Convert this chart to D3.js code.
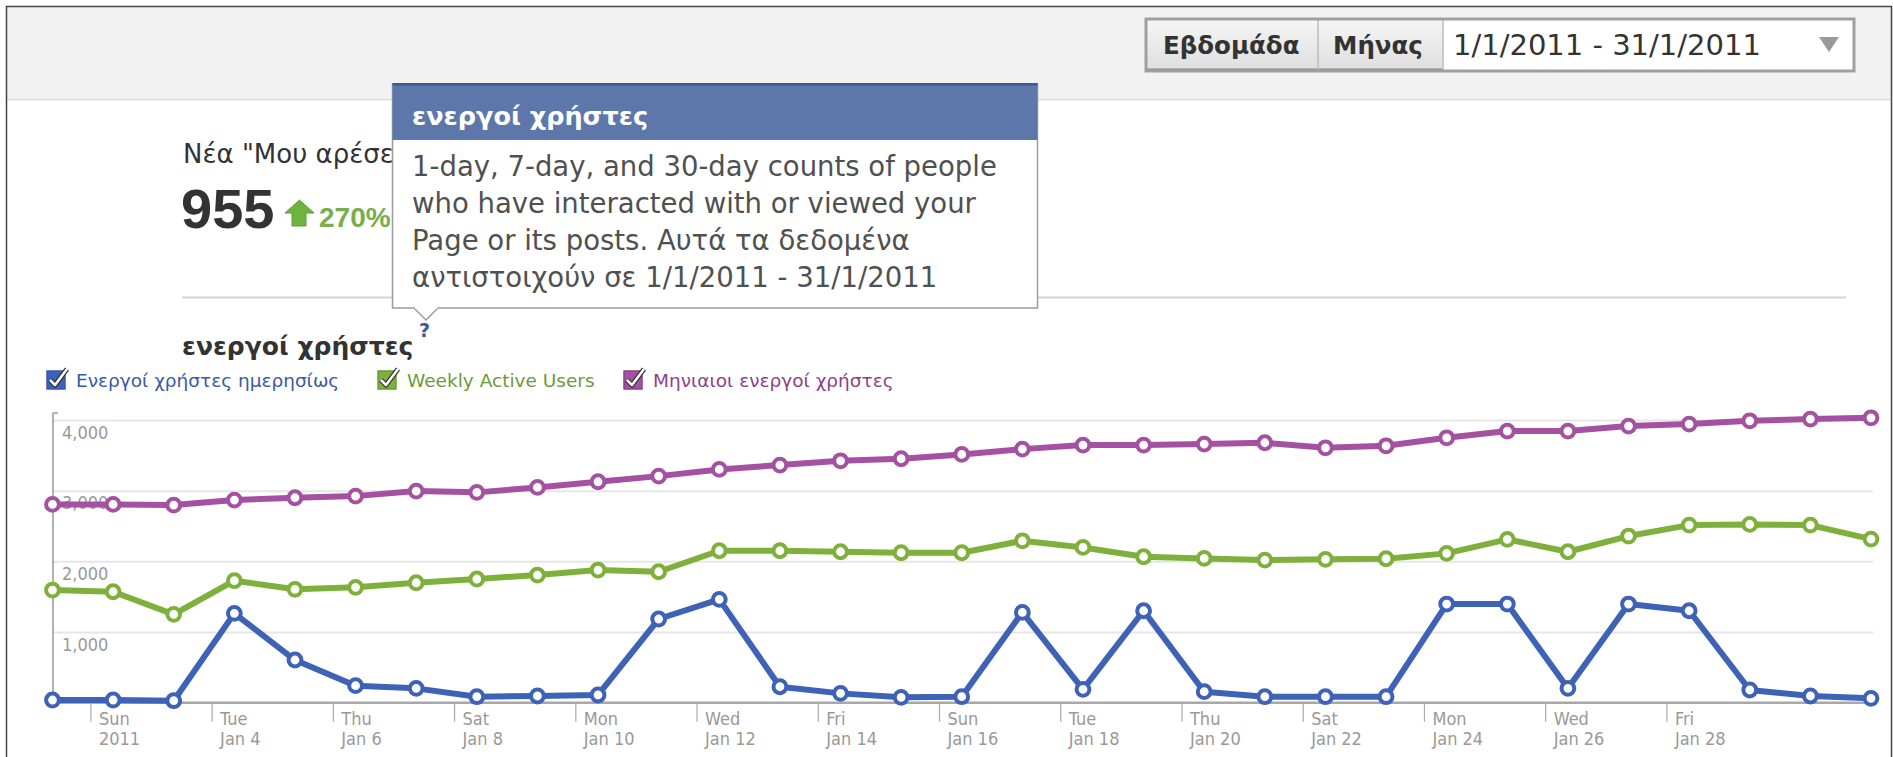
<!DOCTYPE html>
<html>
<head>
<meta charset="utf-8">
<script src="https://cdn.jsdelivr.net/npm/d3@7"></script>
<style>
  body { margin: 0; background: #fff; }
  svg text { font-family: "DejaVu Sans", Verdana, sans-serif; }
</style>
</head>
<body>
<div id="chart-area"></div>
<script>
// data (January 2011)
var days = [1,2,3,4,5,6,7,8,9,10,11,12,13,14,15,16,17,18,19,20,21,22,23,24,25,26,27,28,29,30,31];
var daily   = [38,38,28,1264,604,241,203,85,95,109,1184,1462,226,132,76,85,1278,189,1301,156,85,85,85,1396,1396,203,1396,1301,180,95,62];
var weekly  = [1594,1570,1250,1726,1604,1632,1697,1750,1806,1877,1853,2150,2150,2136,2122,2122,2291,2197,2065,2042,2018,2028,2037,2113,2311,2136,2358,2513,2523,2513,2315];
var monthly = [2806,2806,2796,2867,2900,2923,2994,2976,3046,3126,3206,3301,3362,3423,3452,3513,3588,3645,3645,3659,3678,3607,3635,3748,3843,3843,3914,3942,3989,4013,4031];

var seriesNames  = ["Ενεργοί χρήστες ημερησίως", "Weekly Active Users", "Μηνιαιοι ενεργοί χρήστες"];
var seriesColors = ["#3d62b6", "#80b03c", "#a451a1"];
var legendColors = ["#3b5aa6", "#6b9a3a", "#8e3f8c"];

var tickDays   = [2,4,6,8,10,12,14,16,18,20,22,24,26,28];
var tickWeek   = ["Sun","Tue","Thu","Sat","Mon","Wed","Fri","Sun","Tue","Thu","Sat","Mon","Wed","Fri"];
var tickDate   = ["2011","Jan 4","Jan 6","Jan 8","Jan 10","Jan 12","Jan 14","Jan 16","Jan 18","Jan 20","Jan 22","Jan 24","Jan 26","Jan 28"];
var yTicks     = [1000, 2000, 3000, 4000];

var tooltipTitle = "ενεργοί χρήστες";
var tooltipLines = [
  "1-day, 7-day, and 30-day counts of people",
  "who have interacted with or viewed your",
  "Page or its posts. Αυτά τα δεδομένα",
  "αντιστοιχούν σε 1/1/2011 - 31/1/2011"
];

var W = 1893, H = 757;

var svg = d3.select("#chart-area")
  .append("svg")
  .attr("width", W)
  .attr("height", H);

var defs = svg.append("defs");
var btnGrad = defs.append("linearGradient").attr("id", "btn").attr("x1", 0).attr("y1", 0).attr("x2", 0).attr("y2", 1);
btnGrad.append("stop").attr("offset", "0%").attr("stop-color", "#f6f6f6");
btnGrad.append("stop").attr("offset", "100%").attr("stop-color", "#dedede");
defs.append("clipPath").attr("id", "statClip")
  .append("rect").attr("x", 0).attr("y", 100).attr("width", 392).attr("height", 150);

// header band
svg.append("rect").attr("x", 7).attr("y", 7).attr("width", 1884).attr("height", 92).attr("fill", "#f2f2f2");
svg.append("line").attr("x1", 7).attr("x2", 1891).attr("y1", 99.5).attr("y2", 99.5).attr("stroke", "#e2e2e2").attr("stroke-width", 2);

// period selector
var sel = svg.append("g");
sel.append("rect").attr("x", 1146).attr("y", 19).attr("width", 172).attr("height", 52).attr("fill", "url(#btn)");
sel.append("rect").attr("x", 1318).attr("y", 19).attr("width", 125).attr("height", 52).attr("fill", "url(#btn)");
sel.append("rect").attr("x", 1443).attr("y", 19).attr("width", 411).attr("height", 52).attr("fill", "#fff");
sel.append("line").attr("x1", 1146).attr("x2", 1443).attr("y1", 70).attr("y2", 70).attr("stroke", "#8a8a8a").attr("stroke-width", 3);
sel.append("line").attr("x1", 1318).attr("x2", 1318).attr("y1", 19).attr("y2", 71).attr("stroke", "#bbb").attr("stroke-width", 1.5);
sel.append("line").attr("x1", 1443).attr("x2", 1443).attr("y1", 19).attr("y2", 71).attr("stroke", "#bbb").attr("stroke-width", 1.5);
sel.append("rect").attr("x", 1146).attr("y", 19).attr("width", 708).attr("height", 52)
  .attr("fill", "none").attr("stroke", "#9f9f9f").attr("stroke-width", 3);
sel.append("text").attr("x", 1163).attr("y", 54).attr("font-size", 24.5).attr("font-weight", "bold").attr("fill", "#333").text("Εβδομάδα");
sel.append("text").attr("x", 1333).attr("y", 54).attr("font-size", 24.5).attr("font-weight", "bold").attr("fill", "#333").text("Μήνας");
sel.append("text").attr("x", 1453).attr("y", 55).attr("font-size", 29).attr("fill", "#333").text("1/1/2011 - 31/1/2011");
sel.append("path").attr("d", "M1819,37 L1839,37 L1829,52 Z").attr("fill", "#9a9a9a");

// stat block (partly hidden by the tooltip)
var stat = svg.append("g").attr("clip-path", "url(#statClip)");
stat.append("text").attr("x", 183).attr("y", 163).attr("font-size", 26).attr("fill", "#333").text("Νέα \"Μου αρέσει\"");
stat.append("text").attr("x", 181).attr("y", 228).attr("font-size", 56).attr("font-weight", "bold")
  .style("font-family", "'Liberation Sans', Arial, sans-serif").attr("fill", "#333").text("955");
stat.append("path").attr("d", "M299.5,200 L314,213 L306,213 L306,226 L292,226 L292,213 L285,213 Z")
  .attr("fill", "#6cb33f").attr("stroke", "#5d9e33").attr("stroke-width", 1);
stat.append("text").attr("x", 319).attr("y", 227).attr("font-size", 28).attr("font-weight", "bold")
  .style("font-family", "'Liberation Sans', Arial, sans-serif").attr("fill", "#7aad4c").text("270%");

svg.append("line").attr("x1", 182).attr("x2", 1846).attr("y1", 297.5).attr("y2", 297.5).attr("stroke", "#d4d4d4").attr("stroke-width", 2);

// chart title
svg.append("text").attr("x", 182).attr("y", 355).attr("font-size", 25).attr("font-weight", "bold").attr("fill", "#333").text("ενεργοί χρήστες");
svg.append("text").attr("x", 419).attr("y", 337).attr("font-size", 19).attr("font-weight", "bold").attr("fill", "#3b5998").text("?");

// legend
var legendX = [47, 378, 624];
var legend = svg.selectAll(".legend")
  .data(seriesNames)
  .enter().append("g")
  .attr("class", "legend")
  .attr("transform", (d, i) => "translate(" + legendX[i] + ",371)");
legend.append("rect").attr("width", 18).attr("height", 18)
  .attr("fill", (d, i) => seriesColors[i]).attr("stroke", (d, i) => legendColors[i]).attr("stroke-width", 1.5);
legend.append("path").attr("d", "M3,9 L8,14 L20,-2").attr("fill", "none").attr("stroke", "#333").attr("stroke-width", 5).attr("stroke-linejoin", "round");
legend.append("path").attr("d", "M3,9 L8,14 L20,-2").attr("fill", "none").attr("stroke", "#fff").attr("stroke-width", 2.5).attr("stroke-linejoin", "round");
legend.append("text").attr("x", 29).attr("y", 16).attr("font-size", 18.5)
  .attr("fill", (d, i) => legendColors[i]).text(d => d);

// scales
var x = d3.scaleTime()
  .domain([new Date(2011, 0, 1, 9), new Date(2011, 0, 31, 9)])
  .range([52.5, 1871]);
var y = d3.scaleLinear()
  .domain([0, 4000])
  .range([702.7, 420]);

var plot = svg.append("g");

// horizontal grid + value labels
plot.append("g")
  .attr("transform", "translate(53,0)")
  .call(d3.axisRight(y).tickValues(yTicks).tickSize(1820).tickFormat(d3.format(",")))
  .call(g => g.select(".domain").remove())
  .call(g => g.selectAll(".tick line").attr("stroke", "#e6e6e6").attr("stroke-width", 2))
  .call(g => g.selectAll(".tick text").attr("x", 9).attr("dy", 18)
    .attr("font-size", 18).attr("fill", "#999")
    .style("font-family", "'DejaVu Sans Condensed', 'DejaVu Sans', sans-serif"));

// left axis line
plot.append("line").attr("x1", 53).attr("x2", 53).attr("y1", 413).attr("y2", 703).attr("stroke", "#999").attr("stroke-width", 1.5);
plot.append("line").attr("x1", 53).attr("x2", 58).attr("y1", 413).attr("y2", 413).attr("stroke", "#999").attr("stroke-width", 1.5);

// bottom axis
var tickDates = tickDays.map(d => new Date(2011, 0, d));
var xAxis = plot.append("g")
  .attr("transform", "translate(0,702.7)")
  .call(d3.axisBottom(x).tickValues(tickDates).tickSizeInner(19).tickSizeOuter(0).tickFormat(""))
  .call(g => g.select(".domain").attr("stroke", "#a8a8a8").attr("stroke-width", 2.5).attr("d", "M53,0H1873"))
  .call(g => g.selectAll(".tick line").attr("stroke", "#aaa").attr("stroke-width", 1.2));
xAxis.selectAll(".tick text").remove();
var tickText = xAxis.selectAll(".tick").append("text")
  .attr("fill", "#999").attr("font-size", 18).attr("text-anchor", "start")
  .style("font-family", "'DejaVu Sans Condensed', 'DejaVu Sans', sans-serif");
tickText.append("tspan").attr("x", 8).attr("y", 22).text((d, i) => tickWeek[i]);
tickText.append("tspan").attr("x", 8).attr("y", 42).text((d, i) => tickDate[i]);

// series
var allSeries = [daily, weekly, monthly];
var line = d3.line()
  .x((d, i) => x(new Date(2011, 0, days[i], 9)))
  .y(d => y(d));

allSeries.forEach((values, s) => {
  plot.append("path")
    .datum(values)
    .attr("d", line)
    .attr("fill", "none")
    .attr("stroke", seriesColors[s])
    .attr("stroke-width", 6)
    .attr("stroke-linejoin", "round");
  plot.selectAll(".dot" + s)
    .data(values)
    .enter().append("circle")
    .attr("class", "dot" + s)
    .attr("cx", (d, i) => x(new Date(2011, 0, days[i], 9)))
    .attr("cy", d => y(d))
    .attr("r", 6.4)
    .attr("fill", "#fff")
    .attr("stroke", seriesColors[s])
    .attr("stroke-width", 4);
});

// tooltip
var tip = svg.append("g");
tip.append("rect").attr("x", 392.5).attr("y", 84).attr("width", 645).attr("height", 224)
  .attr("fill", "#fff").attr("stroke", "#9c9c9c").attr("stroke-width", 1.5);
tip.append("path").attr("d", "M414,308 L426,320 L438,308").attr("fill", "#fff").attr("stroke", "#9c9c9c").attr("stroke-width", 1.5);
tip.append("rect").attr("x", 414.8).attr("y", 306).attr("width", 22.4).attr("height", 3).attr("fill", "#fff");
tip.append("rect").attr("x", 392.5).attr("y", 84).attr("width", 645).attr("height", 56).attr("fill", "#5e77ab");
tip.append("rect").attr("x", 392.5).attr("y", 83).attr("width", 645).attr("height", 2.5).attr("fill", "#3b5998");
tip.append("text").attr("x", 412).attr("y", 125).attr("font-size", 25.5).attr("font-weight", "bold").attr("fill", "#fff").text(tooltipTitle);
tip.selectAll(".tipline")
  .data(tooltipLines)
  .enter().append("text")
  .attr("class", "tipline")
  .attr("x", 412)
  .attr("y", (d, i) => 176 + i * 37)
  .attr("font-size", 27.5)
  .attr("fill", "#505050")
  .text(d => d);

// outer frame
svg.append("path").attr("d", "M6.5,757 V6.5 H1891.5 V757").attr("fill", "none").attr("stroke", "#444").attr("stroke-width", 1.5);
</script>
</body>
</html>
